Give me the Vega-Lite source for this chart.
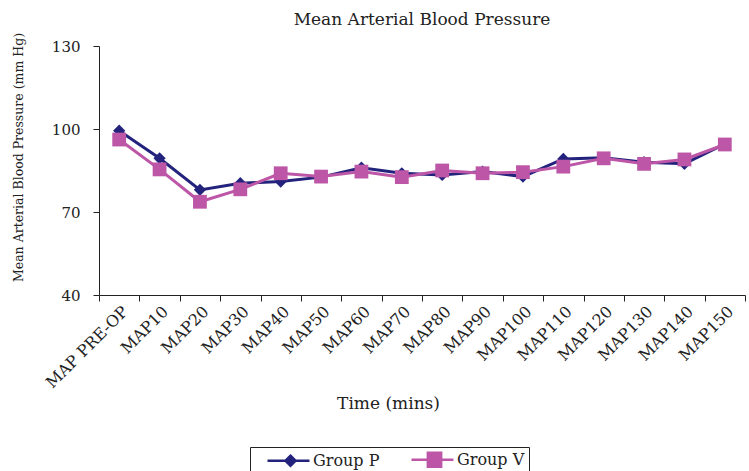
{
  "$schema": "https://vega.github.io/schema/vega-lite/v6.json",
  "width": 646,
  "height": 249,
  "autosize": {"type": "none"},
  "padding": {"left": 99, "top": 46, "right": 4, "bottom": 176},
  "background": "white",
  "config": {
    "view": {"stroke": null},
    "font": "DejaVu Serif",
    "axis": {"labelFont": "DejaVu Serif", "titleFont": "DejaVu Serif", "labelColor": "#222", "titleColor": "#222", "domainColor": "#222", "tickColor": "#222", "titleFontWeight": "normal", "grid": false}
  },
  "title": {"text": "Mean Arterial Blood Pressure", "font": "DejaVu Serif", "fontSize": 17, "fontWeight": "normal", "color": "#222", "offset": 3},
  "data": {"values": [
    {"time": "MAP PRE-OP", "group": "Group P", "map": 99.4},
    {"time": "MAP10", "group": "Group P", "map": 89.4},
    {"time": "MAP20", "group": "Group P", "map": 78.0},
    {"time": "MAP30", "group": "Group P", "map": 80.4},
    {"time": "MAP40", "group": "Group P", "map": 81.0},
    {"time": "MAP50", "group": "Group P", "map": 82.6},
    {"time": "MAP60", "group": "Group P", "map": 86.0},
    {"time": "MAP70", "group": "Group P", "map": 84.0},
    {"time": "MAP80", "group": "Group P", "map": 83.4},
    {"time": "MAP90", "group": "Group P", "map": 84.6},
    {"time": "MAP100", "group": "Group P", "map": 82.8},
    {"time": "MAP110", "group": "Group P", "map": 89.2},
    {"time": "MAP120", "group": "Group P", "map": 89.6},
    {"time": "MAP130", "group": "Group P", "map": 88.0},
    {"time": "MAP140", "group": "Group P", "map": 87.4},
    {"time": "MAP150", "group": "Group P", "map": 94.6},
    {"time": "MAP PRE-OP", "group": "Group V", "map": 96.2},
    {"time": "MAP10", "group": "Group V", "map": 85.4},
    {"time": "MAP20", "group": "Group V", "map": 73.7},
    {"time": "MAP30", "group": "Group V", "map": 78.2},
    {"time": "MAP40", "group": "Group V", "map": 84.0},
    {"time": "MAP50", "group": "Group V", "map": 82.8},
    {"time": "MAP60", "group": "Group V", "map": 84.6},
    {"time": "MAP70", "group": "Group V", "map": 82.6},
    {"time": "MAP80", "group": "Group V", "map": 85.0},
    {"time": "MAP90", "group": "Group V", "map": 84.0},
    {"time": "MAP100", "group": "Group V", "map": 84.4},
    {"time": "MAP110", "group": "Group V", "map": 86.4},
    {"time": "MAP120", "group": "Group V", "map": 89.4},
    {"time": "MAP130", "group": "Group V", "map": 87.4},
    {"time": "MAP140", "group": "Group V", "map": 89.0},
    {"time": "MAP150", "group": "Group V", "map": 94.4}
  ]},
  "encoding": {
    "x": {"field": "time", "type": "nominal", "sort": null,
      "scale": {"paddingInner": 0, "paddingOuter": 0},
      "axis": {"title": "Time (mins)", "titleFontSize": 17, "titleX": 289, "titleY": 108, "titleBaseline": "middle", "labelAngle": -45, "labelFontSize": 16, "tickBand": "extent", "tickSize": 6, "labelPadding": 2}},
    "y": {"field": "map", "type": "quantitative",
      "scale": {"domain": [40, 130], "nice": false, "zero": false},
      "axis": {"title": "Mean Arterial Blood Pressure (mm Hg)", "titleFontSize": 12.5, "values": [40, 70, 100, 130], "labelFontSize": 15, "tickSize": 6, "labelPadding": 13, "titleX": -81, "titleY": 111, "titleBaseline": "middle", "titleAngle": -90}},
    "color": {"field": "group", "type": "nominal",
      "scale": {"domain": ["Group P", "Group V"], "range": ["#23237d", "#bd56a6"]},
      "legend": {"title": null, "orient": "none", "direction": "horizontal", "legendX": 151, "legendY": 401,
        "strokeColor": "#222", "padding": 4, "labelFont": "DejaVu Serif", "labelFontSize": 16, "labelColor": "#222",
        "symbolSize": 196, "columnPadding": 18, "labelOffset": 42,
        "encode": {"symbols": {"update": {
          "shape": {"signal": "datum.value == 'Group P' ? 'M0.714,0L6.71,0M4,-0.72L4.72,0L4,0.72L3.28,0Z' : 'M0.714,0L6.71,0M3.05,-1L4.95,-1L4.95,1L3.05,1Z'"},
          "stroke": {"signal": "datum.value == 'Group P' ? '#23237d' : '#bd56a6'"},
          "fill": {"signal": "datum.value == 'Group P' ? '#23237d' : '#bd56a6'"},
          "strokeWidth": {"value": 2.5},
          "opacity": {"value": 1}
        }}}}
    }
  },
  "layer": [
    {"transform": [{"filter": "datum.group == 'Group P'"}], "mark": {"type": "line", "strokeWidth": 3}},
    {"transform": [{"filter": "datum.group == 'Group P'"}], "mark": {"type": "point", "shape": "diamond", "filled": true, "size": 150, "opacity": 1}},
    {"transform": [{"filter": "datum.group == 'Group V'"}], "mark": {"type": "line", "strokeWidth": 3}},
    {"transform": [{"filter": "datum.group == 'Group V'"}], "mark": {"type": "point", "shape": "square", "filled": true, "size": 190, "opacity": 1}}
  ]
}
